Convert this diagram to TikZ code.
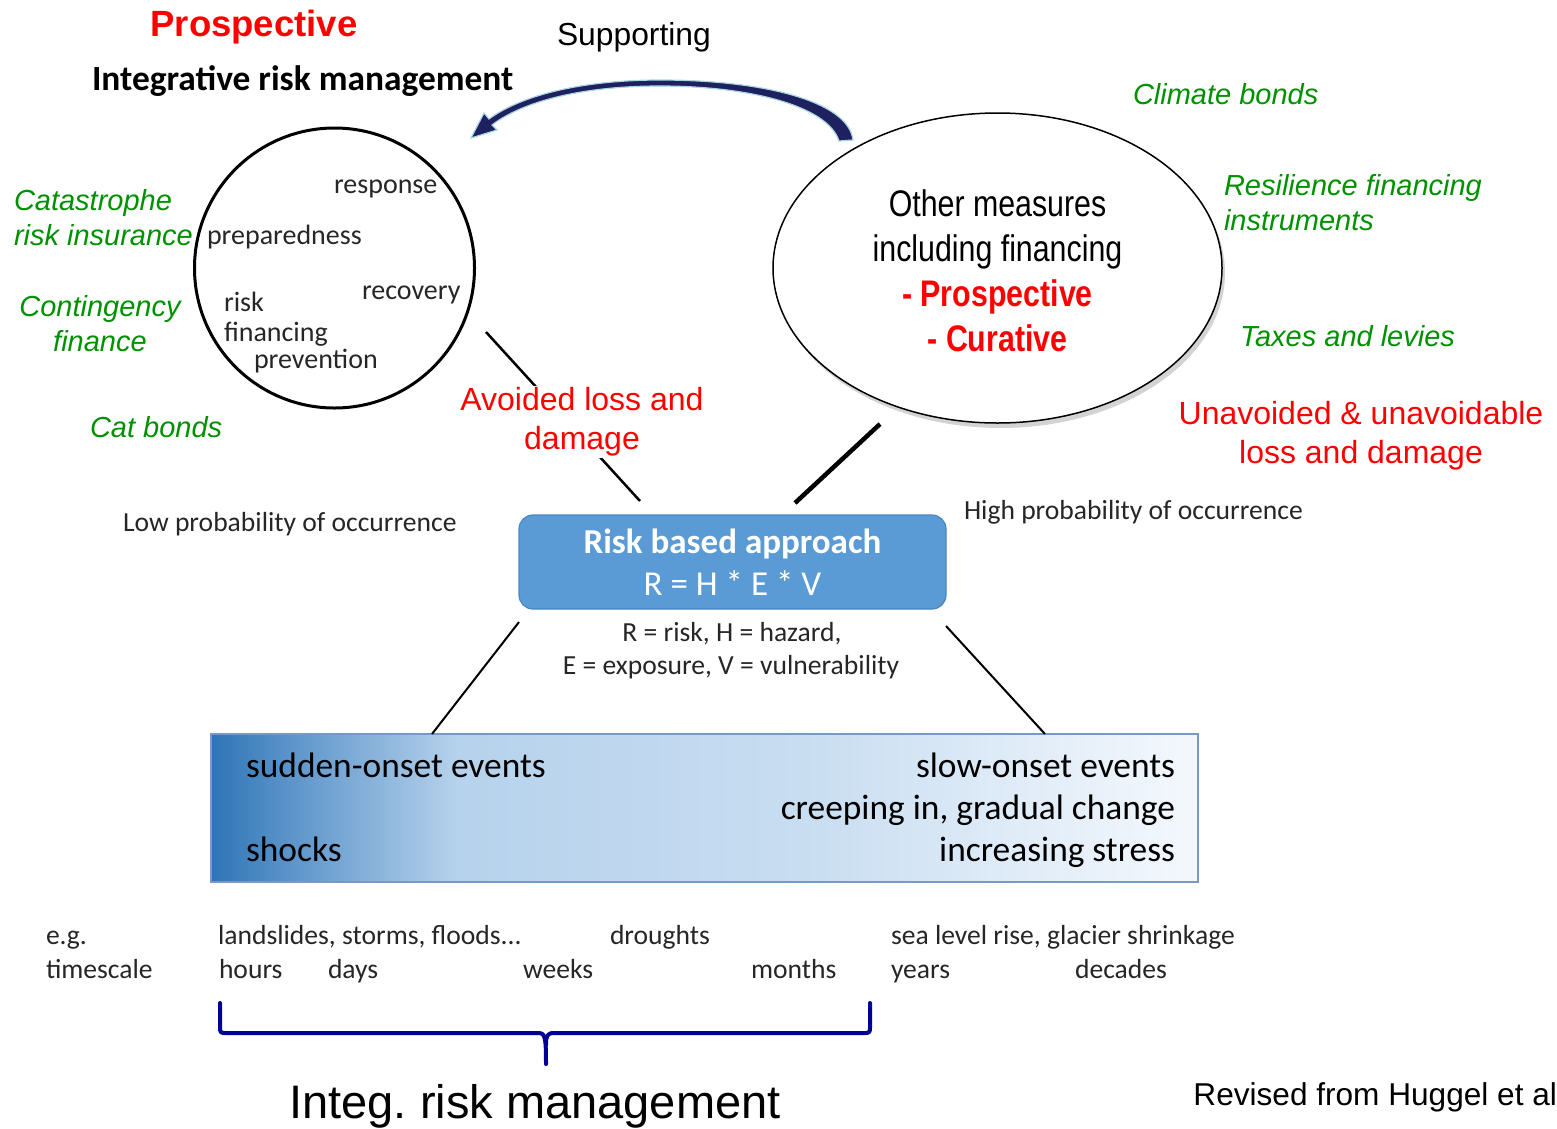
\documentclass[tikz,border=0pt]{standalone}
\usepackage{fontspec}
\setmainfont{Liberation Sans}
\newfontfamily\calfont{Carlito}
\newfontfamily\narrowfont[FakeStretch=0.82]{Liberation Sans}
\usetikzlibrary{shapes.geometric,shadows}
\frenchspacing
\definecolor{grn}{RGB}{0,145,0}
\definecolor{txtgray}{RGB}{38,38,38}
\definecolor{navyarrow}{RGB}{30,32,96}
\definecolor{halo}{RGB}{168,214,224}
\definecolor{boxblue}{RGB}{91,155,213}
\definecolor{boxedge}{RGB}{74,134,196}
\definecolor{braceblue}{RGB}{0,0,150}
\definecolor{c0}{RGB}{46,117,182}
\definecolor{c1}{RGB}{92,148,202}
\definecolor{c2}{RGB}{182,210,236}
\definecolor{c3}{RGB}{200,221,241}
\definecolor{c4}{RGB}{244,248,253}
\definecolor{evedge}{RGB}{120,152,200}
\pgfdeclarehorizontalshading{evshade}{100bp}{color(0bp)=(c0); color(25bp)=(c0); color(29bp)=(c1); color(37.5bp)=(c2); color(55bp)=(c3); color(75bp)=(c4); color(100bp)=(c4)}
\newcommand\myfs[2]{\fontsize{#1}{#2}\selectfont}
\tikzset{
  greenlbl/.style={text=grn, font=\myfs{29}{35}\itshape},
  redlbl/.style={text=red, font=\myfs{32}{39}, align=center, fill=white, inner sep=2pt},
  inlbl/.style={text=txtgray, font=\calfont\myfs{28}{32}},
  smalllbl/.style={text=txtgray, font=\calfont\myfs{27.6}{32}},
  evlbl/.style={text=black, font=\calfont\myfs{35.4}{42}},
  conn/.style={draw=black, line width=2pt},
}
\begin{document}
\begin{tikzpicture}[x=1pt,y=-1pt, every node/.style={inner sep=0pt, outer sep=0pt}]
\useasboundingbox (0,0) rectangle (1557,1128);

% titles
\node[text=red, font=\myfs{36.5}{43}\bfseries] (tprosp) at (254,27) {Prospective};
\node[anchor=mid west, font=\myfs{31.8}{37}] (tsupp) at (557,43) {Supporting};
\node[anchor=mid west, font=\calfont\myfs{35.4}{42}\bfseries] (tint) at (92,88) {Integrative risk management};

% supporting arrow
\filldraw[fill=navyarrow, draw=halo, line width=1.2pt]
  (853,140) .. controls (848,100) and (760,80) .. (660,80)
  .. controls (580,80) and (520,96) .. (489,119)
  -- (484,113) -- (471,138) -- (497,130) -- (492,125)
  .. controls (522,102) and (580,86) .. (660,86)
  .. controls (750,86) and (828,106) .. (839,141) -- cycle;

% left circle
\node[circle, draw=black, line width=3pt, minimum size=280pt] (lc) at (334.5,268) {};
\node[inlbl, anchor=mid west] (lresp) at (334,191) {response};
\node[inlbl, anchor=mid west] (lprep) at (207,242) {preparedness};
\node[inlbl, anchor=mid west] (lrec) at (362,297) {recovery};
\node[inlbl, anchor=mid west] (lrisk) at (224,309) {risk};
\node[inlbl, anchor=mid west] (lfin) at (224,339) {financing};
\node[inlbl, anchor=mid west] (lprev) at (254,366) {prevention};

% green labels left
\node[greenlbl, anchor=mid west] (gcat1) at (14,208) {Catastrophe};
\node[greenlbl, anchor=mid west] (gcat2) at (14,243) {risk insurance};
\node[greenlbl, anchor=mid] (gcon1) at (100,314) {Contingency};
\node[greenlbl, anchor=mid] (gcon2) at (100,349) {finance};
\node[greenlbl, anchor=mid west] (gcatb) at (90,435) {Cat bonds};
% green labels right
\node[greenlbl, anchor=mid west] (gclim) at (1133,102) {Climate bonds};
\node[greenlbl, anchor=mid west] (gres1) at (1224,193) {Resilience financing};
\node[greenlbl, anchor=mid west] (gres2) at (1224,228) {instruments};
\node[greenlbl, anchor=mid west] (gtax) at (1240,344) {Taxes and levies};

% right ellipse
\node[ellipse, draw=black, line width=1.5pt, fill=white, minimum width=449pt, minimum height=310pt,
      drop shadow={shadow xshift=3pt, shadow yshift=-5pt, opacity=0.35}] (oe) at (997.5,268) {};
\node[align=center, font=\narrowfont\myfs{37}{45}] (oetext) at (997.5,271)
  {Other measures\\including financing\\{\color{red}\bfseries - Prospective}\\{\color{red}\bfseries - Curative}};

% risk box
\node[draw=boxedge, line width=1.2pt, fill=boxblue, rounded corners=14pt, minimum width=427pt, minimum height=94pt,
      align=center, text=white, font=\calfont\myfs{35}{42}] (rb) at (732.5,562)
  {{\bfseries Risk based approach}\\R = H * E * V};

% connectors
\coordinate (av1) at (486,332);
\coordinate (av2) at (640,501);
\draw[conn, line width=2.5pt] (av1) -- (av2);
\node[redlbl] (avoid) at (582,422) {Avoided loss and\\damage};
\coordinate (th1) at (880,424);
\coordinate (th2) at (795,503);
\draw[conn, line width=4.5pt] (th1) -- (th2);
\node[redlbl] (unav) at (1361,436) {Unavoided \& unavoidable\\loss and damage};

\node[smalllbl, anchor=mid west] (lowp) at (123,529) {Low probability of occurrence};
\node[smalllbl, anchor=mid west] (highp) at (964,517) {High probability of occurrence};
\node[smalllbl, anchor=mid] (def1) at (732,639) {R = risk, H = hazard,};
\node[smalllbl, anchor=mid] (def2) at (731,672) {E = exposure, V = vulnerability};

% events box
\node[draw=evedge, line width=1.2pt, shading=evshade, minimum width=987pt, minimum height=148pt] (ev) at (704.5,808) {};
\coordinate (ll1) at (519,622);
\coordinate (ll2) at (432,734);
\coordinate (rl1) at (946,626);
\coordinate (rl2) at (1045,734);
\draw[conn] (ll1) -- (ll2);
\draw[conn] (rl1) -- (rl2);
\node[evlbl, anchor=mid west] (sudden) at (246,775) {sudden-onset events};
\node[evlbl, anchor=mid west] (shocks) at (246,859) {shocks};
\node[evlbl, anchor=mid east] (slow) at (1175,775) {slow-onset events};
\node[evlbl, anchor=mid east] (creep) at (1175,817) {creeping in, gradual change};
\node[evlbl, anchor=mid east] (incr) at (1175,859) {increasing stress};

% timescale
\node[smalllbl, anchor=mid west] (eg) at (46,942) {e.g.};
\node[smalllbl, anchor=mid west] (tsc) at (46,976) {timescale};
\node[smalllbl, anchor=mid west] (lands) at (218,942) {landslides, storms, floods...};
\node[smalllbl, anchor=mid west] (drought) at (610,942) {droughts};
\node[smalllbl, anchor=mid west] (sea) at (891,942) {sea level rise, glacier shrinkage};
\node[smalllbl, anchor=mid west] (hours) at (219,976) {hours};
\node[smalllbl, anchor=mid west] (days) at (328,976) {days};
\node[smalllbl, anchor=mid west] (weeks) at (523,976) {weeks};
\node[smalllbl, anchor=mid west] (months) at (751,976) {months};
\node[smalllbl, anchor=mid west] (years) at (891,976) {years};
\node[smalllbl, anchor=mid west] (decades) at (1075,976) {decades};

% brace
\draw[braceblue, line width=4pt, line cap=round, line join=round]
  (220,1003) -- (220,1026) .. controls (220,1033) .. (227,1033) -- (538,1033)
  .. controls (545,1033) and (546,1036) .. (546,1064);
\draw[braceblue, line width=4pt, line cap=round, line join=round]
  (870,1003) -- (870,1026) .. controls (870,1033) .. (863,1033) -- (554,1033)
  .. controls (547,1033) and (546,1036) .. (546,1045);
\node[font=\myfs{47}{56}, anchor=mid] (integ) at (535,1116) {Integ. risk management};
\node[font=\myfs{31.6}{37}, anchor=mid east] (revised) at (1557,1103) {Revised from Huggel et al};
\end{tikzpicture}
\end{document}
